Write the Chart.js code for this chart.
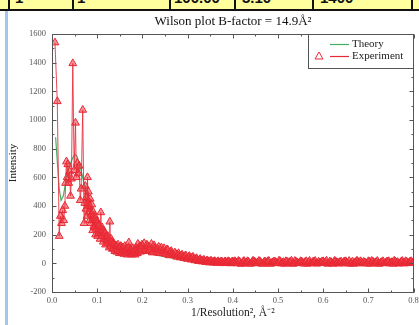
<!DOCTYPE html>
<html><head><meta charset="utf-8">
<script src="https://cdn.jsdelivr.net/npm/chart.js@4/dist/chart.umd.min.js"></script>
<style>
html,body{margin:0;padding:0;background:#fff;width:419px;height:325px;overflow:hidden;}
#wrap{position:absolute;left:0;top:0;width:419px;height:325px;}
#strip{position:absolute;left:0;top:0;width:419px;height:9px;background:#ffff9e;border-bottom:2px solid #111;overflow:hidden;}
.cell{position:absolute;top:0;height:9px;border-left:2px solid #111;overflow:hidden;}
.cell span{position:absolute;top:-11px;font:bold 15px "Liberation Sans",Arial,sans-serif;color:#111;white-space:nowrap;}
#blue{position:absolute;left:5px;top:11px;width:3px;height:314px;background:#a4c6e8;}
</style></head>
<body>
<div id="wrap"><canvas id="c" width="419" height="325"></canvas></div>
<div id="strip">
  <div class="cell" style="left:8px;width:63px"><span style="left:5px">1</span></div>
  <div class="cell" style="left:72px;width:96px"><span style="left:3px">1</span></div>
  <div class="cell" style="left:169px;width:64px"><span style="left:3px">100.00</span></div>
  <div class="cell" style="left:234px;width:77px"><span style="left:6px">3.10</span></div>
  <div class="cell" style="left:312px;width:98px"><span style="left:6px">1400</span></div>
  <div class="cell" style="left:411px;width:8px"></div>
</div>
<div id="blue"></div>
<script>
const chartTitle = "Wilson plot B-factor = 14.9Å²";
const xAxisTitle = "1/Resolution², Å⁻²";
const yAxisTitle = "Intensity";
const seriesNames = ["Theory", "Experiment"];
const yTicks = [-200, 0, 200, 400, 600, 800, 1000, 1200, 1400, 1600];
const xTicks = [0.0, 0.1, 0.2, 0.3, 0.4, 0.5, 0.6, 0.7, 0.8];

const theoryX = [0.008,0.012,0.016,0.020,0.025,0.030,0.035,0.040,0.045,0.050,0.055,0.060,0.065,0.070,0.075,0.080,0.090,0.100,0.110,0.120,0.130,0.140,0.150,0.160,0.180,0.200,0.220,0.250,0.300,0.350,0.400,0.500,0.600,0.700,0.800];
const theoryY = [880,700,520,440,470,560,640,690,730,760,750,700,640,570,510,460,370,300,245,200,165,140,120,105,85,75,65,45,22,12,8,5,4,3,3];

// low-resolution shells (spiky part)
const expX1 = [0.0066,0.0117,0.0160,0.0185,0.0210,0.0235,0.0260,0.0285,0.0300,0.0320,
               0.0335,0.0350,0.0370,0.0390,0.0410,0.0430,0.0460,0.0490,0.0520,0.0540,
               0.0560,0.0580,0.0600,0.0625,0.0645,0.0680];
const expY1 = [1540,1130,190,330,280,370,300,400,560,710,
               600,690,560,640,470,590,1395,650,980,600,
               700,630,680,440,520,1070];
// dense middle part
const expX2 = [0.0710,0.0725,0.0735,0.0750,0.0760,0.0775,0.0785,0.0800,0.0805,0.0815,
               0.0825,0.0835,0.0845,0.0860,0.0870,0.0880,0.0890,0.0900,0.0910,0.0925,
               0.0935,0.0945,0.0955,0.0965,0.0980,0.0990,0.1000,0.1010,0.1025,0.1035,
               0.1050,0.1065,0.1080,0.1090,0.1100,0.1110,0.1125,0.1135,0.1150,0.1160,
               0.1175,0.1185,0.1200,0.1210,0.1225,0.1235,0.1250,0.1265,0.1280,0.1290,
               0.1300,0.1310,0.1325,0.1335,0.1350,0.1360,0.1375,0.1390,0.1400,0.1410,
               0.1425,0.1435,0.1450,0.1460,0.1475,0.1490,0.1500,0.1510,0.1525,0.1540,
               0.1550,0.1560,0.1575,0.1590,0.1600,0.1610,0.1625,0.1640,0.1650,0.1660,
               0.1675,0.1690,0.1700,0.1710,0.1725,0.1740,0.1750,0.1760,0.1775,0.1790,
               0.1800,0.1810,0.1825,0.1840,0.1850,0.1860,0.1875,0.1890,0.1900,0.1910,
               0.1925,0.1940,0.1950,0.1960,0.1975,0.1990,0.2000];
const expY2 = [280,420,540,380,460,330,600,420,500,360,
               400,300,450,280,340,410,300,230,360,260,
               250,330,310,200,240,300,280,190,210,270,
               260,170,355,220,190,250,230,150,170,220,
               210,130,185,160,140,190,160,110,290,140,
               120,170,150,100,105,140,130,85,95,125,
               120,80,90,130,110,70,85,115,120,75,
               80,110,105,65,90,120,75,95,100,60,
               80,110,145,75,70,100,95,60,80,105,
               65,85,90,60,75,110,100,70,135,90,
               85,120,110,80,95,130,120];
// descending part
const expX3 = [0.204,0.208,0.212,0.216,0.220,0.224,0.228,0.232,0.236,0.240,
               0.244,0.248,0.252,0.256,0.260,0.264,0.268,0.272,0.276,0.280,
               0.284,0.288,0.292,0.296,0.300,0.304,0.308,0.312,0.316,0.320,
               0.324,0.328,0.332,0.336,0.340,0.344,0.348,0.352,0.356,0.360,
               0.364,0.368,0.372,0.376,0.380,0.384,0.388,0.392,0.396,0.400];
const expY3 = [140,85,120,95,135,80,110,75,115,90,
               70,105,65,95,55,85,60,75,45,70,
               40,60,35,55,30,50,25,45,20,35,
               15,30,12,25,8,20,5,18,4,15,
               2,14,3,12,0,13,2,11,-1,12];
const expX3b = [0.206,0.210,0.214,0.218,0.222,0.226,0.230,0.234,0.238,0.242,
                0.246,0.250,0.254,0.258,0.262,0.266,0.270,0.274,0.278,0.282,
                0.286,0.290,0.294,0.298,0.302,0.306,0.310,0.314,0.318,0.322,
                0.326,0.330,0.334,0.338,0.342,0.346,0.350,0.354,0.358,0.362,
                0.366,0.370,0.374,0.378,0.382,0.386,0.390,0.394,0.398,0.402];
const expY3b = [100,130,90,110,75,125,95,100,70,110,
                85,80,95,60,80,70,55,65,60,50,
                55,45,50,35,45,35,40,30,30,25,
                22,20,18,15,16,12,14,10,12,8,
                10,6,12,4,10,6,14,2,10,6];
// flat high-resolution tail
const expX4 = [0.405,0.410,0.415,0.420,0.425,0.430,0.435,0.440,0.445,0.450,
               0.455,0.460,0.465,0.470,0.475,0.480,0.485,0.490,0.495,0.500,
               0.505,0.510,0.515,0.520,0.525,0.530,0.535,0.540,0.545,0.550,
               0.555,0.560,0.565,0.570,0.575,0.580,0.585,0.590,0.595,0.600,
               0.605,0.610,0.615,0.620,0.625,0.630,0.635,0.640,0.645,0.650,
               0.655,0.660,0.665,0.670,0.675,0.680,0.685,0.690,0.695,0.700,
               0.705,0.710,0.715,0.720,0.725,0.730,0.735,0.740,0.745,0.750,
               0.755,0.760,0.765,0.770,0.775,0.780,0.785,0.790,0.795,0.800];
const expY4 = [14,-1,12,-4,16,4,10,-2,18,7,
               0,14,-4,12,4,16,-2,10,8,0,
               14,4,-4,12,8,18,-2,10,0,14,
               4,8,-4,16,0,12,-2,10,4,14,
               8,-4,12,0,16,4,-2,10,8,14,
               0,-4,12,4,18,-2,8,10,0,14,
               -4,12,4,16,-2,8,0,10,14,4,
               -4,12,8,0,16,-2,10,4,14,8];
const expX4b = [0.4075,0.4125,0.4175,0.4225,0.4275,0.4325,0.4375,0.4425,0.4475,0.4525,
                0.4575,0.4625,0.4675,0.4725,0.4775,0.4825,0.4875,0.4925,0.4975,0.5025,
                0.5075,0.5125,0.5175,0.5225,0.5275,0.5325,0.5375,0.5425,0.5475,0.5525,
                0.5575,0.5625,0.5675,0.5725,0.5775,0.5825,0.5875,0.5925,0.5975,0.6025,
                0.6075,0.6125,0.6175,0.6225,0.6275,0.6325,0.6375,0.6425,0.6475,0.6525,
                0.6575,0.6625,0.6675,0.6725,0.6775,0.6825,0.6875,0.6925,0.6975,0.7025,
                0.7075,0.7125,0.7175,0.7225,0.7275,0.7325,0.7375,0.7425,0.7475,0.7525,
                0.7575,0.7625,0.7675,0.7725,0.7775,0.7825,0.7875,0.7925,0.7975,0.4025];
const expY4b = [6,16,-3,10,2,14,-4,8,12,0,
                16,4,-2,10,14,-4,6,12,2,18,
                -2,8,14,0,10,-4,16,6,2,12,
                -3,14,8,0,10,16,-2,6,12,2,
                18,0,8,-4,14,6,10,-2,12,4,
                16,2,-4,10,8,14,0,6,-3,12,
                16,2,10,-4,6,14,0,12,-2,8,
                18,4,-3,10,6,14,0,12,2,8];

const expX = [...expX1, ...expX2, ...expX3, ...expX3b, ...expX4, ...expX4b];
const expY = [...expY1, ...expY2, ...expY3, ...expY3b, ...expY4, ...expY4b];

const theoryColor = "rgb(70,175,100)";
const expColor = "rgb(232,40,52)";
const frameColor = "#555";
const serif = "'Liberation Serif','Times New Roman',serif";

const theoryData = theoryX.map((x,i)=>({x, y: theoryY[i]}));
const expData = expX.map((x,i)=>({x, y: expY[i]})).sort((p,q)=>p.x-q.x);

const framePlugin = {
  id: 'frame',
  afterDraw(chart) {
    const {ctx, chartArea: a, scales} = chart;
    const xs = scales.x, ys = scales.y;
    ctx.save();
    ctx.strokeStyle = frameColor;
    ctx.lineWidth = 1;
    const L = Math.round(a.left)+0.5, T = Math.round(a.top)+0.5, R = Math.round(a.right)-0.5, B = Math.round(a.bottom)+0.5;
    ctx.strokeRect(L, T, R-L, B-T);
    ctx.beginPath();
    for (let k = 0; k <= 16; k++) {
      const v = k * 0.05;
      const px = Math.round(xs.getPixelForValue(v)) + 0.5;
      const len = (k % 2 === 0) ? 4 : 2;
      ctx.moveTo(px, B); ctx.lineTo(px, B - len);
      ctx.moveTo(px, T); ctx.lineTo(px, T + len);
    }
    for (let k = 0; k <= 18; k++) {
      const v = -200 + k * 100;
      const py = Math.round(ys.getPixelForValue(v)) + 0.5;
      const len = (k % 2 === 0) ? 4 : 2;
      ctx.moveTo(L, py); ctx.lineTo(L + len, py);
      ctx.moveTo(R, py); ctx.lineTo(R - len, py);
    }
    ctx.stroke();

    // title
    ctx.fillStyle = "#111";
    ctx.font = "13px " + serif;
    ctx.textAlign = "center";
    ctx.textBaseline = "middle";
    ctx.fillText(chartTitle, 233, 22);

    // legend
    const lx = 308, ly = Math.round(a.top), lw = Math.round(a.right) - 308, lh = 34;
    ctx.fillStyle = "#fff";
    ctx.fillRect(lx+0.5, ly+0.5, lw-1, lh);
    ctx.strokeStyle = frameColor;
    ctx.strokeRect(lx+0.5, ly+0.5, lw-1, lh);
    ctx.lineWidth = 1.2;
    ctx.strokeStyle = theoryColor;
    ctx.beginPath(); ctx.moveTo(330, ly+10.5); ctx.lineTo(349, ly+10.5); ctx.stroke();
    ctx.strokeStyle = expColor;
    ctx.beginPath(); ctx.moveTo(330, ly+22.5); ctx.lineTo(349, ly+22.5); ctx.stroke();
    ctx.beginPath();
    ctx.moveTo(319, ly+18); ctx.lineTo(323, ly+25); ctx.lineTo(315, ly+25); ctx.closePath();
    ctx.lineWidth = 1;
    ctx.stroke();
    ctx.fillStyle = "#222";
    ctx.font = "11px " + serif;
    ctx.textAlign = "left";
    ctx.fillText(seriesNames[0], 352, ly+10.5);
    ctx.fillText(seriesNames[1], 352, ly+22.5);
    ctx.restore();
  }
};

new Chart(document.getElementById('c'), {
  type: 'scatter',
  data: {
    datasets: [
      { label: seriesNames[1], data: expData, showLine: true, order: 0,
        borderColor: 'rgba(232,50,65,0.9)', borderWidth: 1,
        pointStyle: 'triangle', pointRadius: 4.5, pointBorderWidth: 1,
        pointBorderColor: expColor, pointBackgroundColor: 'rgba(238,60,70,0.55)' },
      { label: seriesNames[0], data: theoryData, showLine: true, order: 1,
        borderColor: theoryColor, borderWidth: 1.2, pointRadius: 0 }
    ]
  },
  options: {
    responsive: false, animation: false,
    layout: { padding: { left: 0, right: 4, top: 34, bottom: 0 } },
    plugins: { legend: { display: false }, tooltip: { enabled: false }, title: { display: false } },
    scales: {
      x: {
        type: 'linear', min: 0, max: 0.8,
        afterFit: s => { s.height = 33; s.paddingLeft = 0; s.paddingRight = 0; },
        afterBuildTicks: s => { s.ticks = xTicks.map(v => ({value: v})); },
        grid: { display: false, drawTicks: false }, border: { display: false },
        ticks: { padding: 4, color: '#555', font: { family: serif, size: 8.5 }, callback: v => Number(v).toFixed(1), maxRotation: 0 },
        title: { display: true, text: xAxisTitle, color: '#222', font: { family: serif, size: 11.5 }, padding: { top: 0, bottom: 5 } }
      },
      y: {
        type: 'linear', min: -200, max: 1600,
        afterFit: s => { s.width = 52; s.paddingTop = 0; s.paddingBottom = 0; },
        afterBuildTicks: s => { s.ticks = yTicks.map(v => ({value: v})); },
        grid: { display: false, drawTicks: false }, border: { display: false },
        ticks: { padding: 6, color: '#555', font: { family: serif, size: 8.5 }, callback: v => String(v) },
        title: { display: true, text: yAxisTitle, color: '#222', font: { family: serif, size: 11 }, padding: { top: 7, bottom: 0 } }
      }
    }
  },
  plugins: [framePlugin]
});
</script>
</body></html>
